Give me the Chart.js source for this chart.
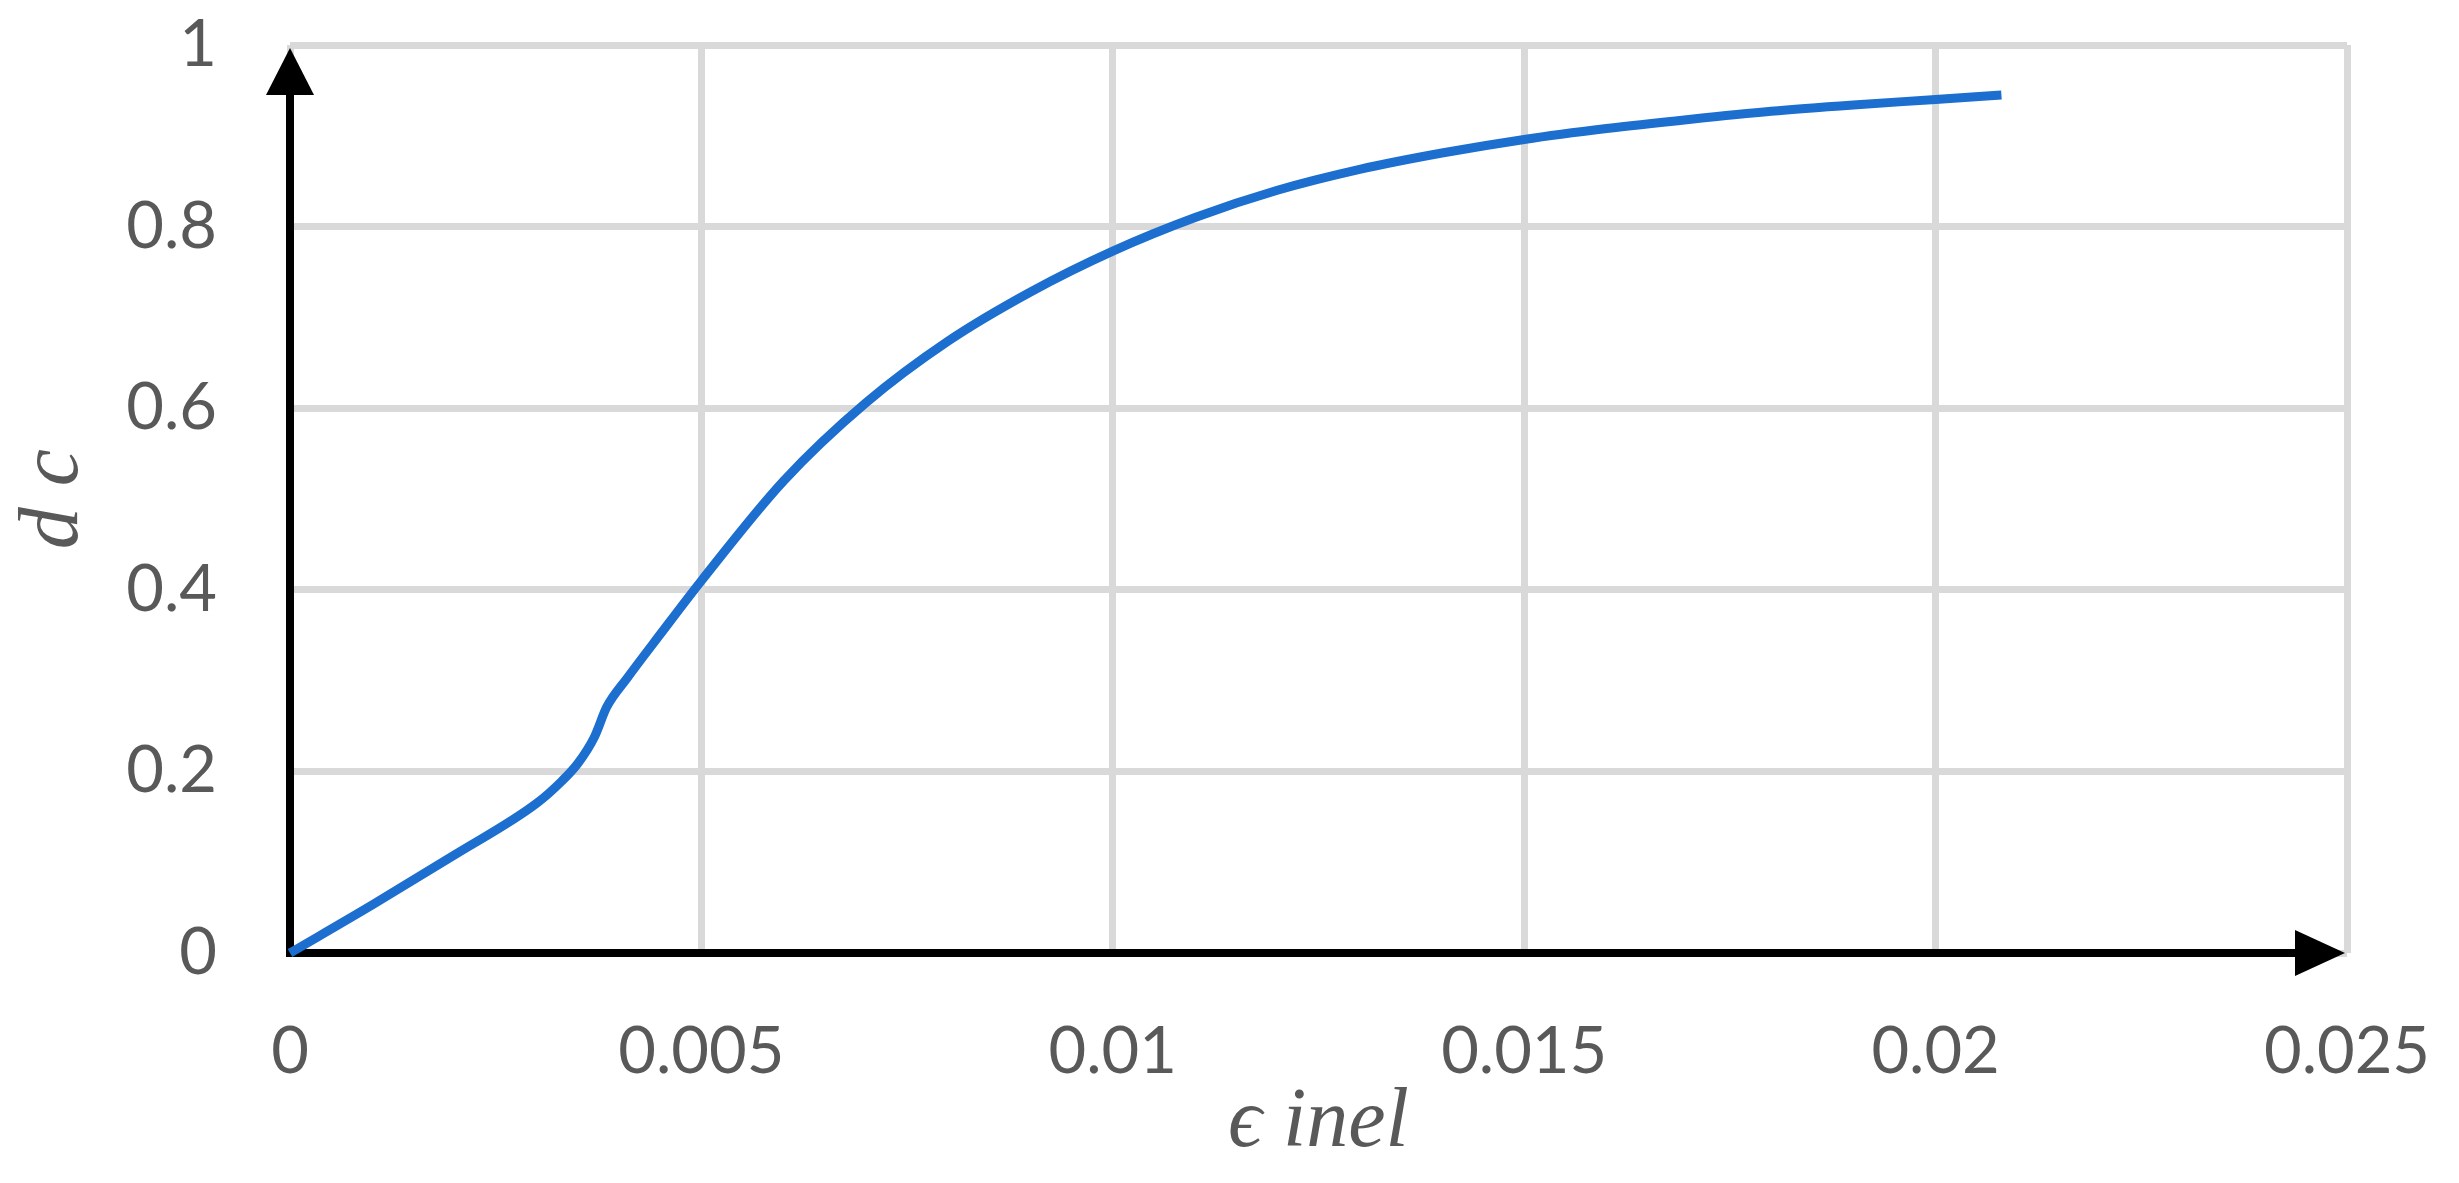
<!DOCTYPE html>
<html>
<head>
<meta charset="utf-8">
<script src="https://cdn.jsdelivr.net/npm/chart.js@4/dist/chart.umd.min.js"></script>
<style>
  html, body { margin: 0; padding: 0; background: #fff; }
  #wrap { width: 2459px; height: 1183px; }
</style>
</head>
<body>
<div id="wrap"><canvas id="chart" width="2459" height="1183"></canvas></div>
<script>
// inelastic strain vs compressive damage
const strainInel = [0, 0.001, 0.002, 0.003, 0.0033, 0.0035, 0.0037, 0.00385, 0.0041, 0.0045,
  0.005, 0.006, 0.007, 0.008, 0.009, 0.01, 0.011, 0.012, 0.013, 0.014,
  0.015, 0.016, 0.017, 0.018, 0.019, 0.02, 0.0208];
const damageC = [0, 0.053, 0.108, 0.165, 0.189, 0.209, 0.238, 0.271, 0.303, 0.351,
  0.41, 0.52, 0.606, 0.674, 0.728, 0.773, 0.81, 0.84, 0.863, 0.881,
  0.896, 0.908, 0.918, 0.927, 0.934, 0.940, 0.945];

const xTicks = [0, 0.005, 0.01, 0.015, 0.02, 0.025];
const xTickLabels = ["0", "0.005", "0.01", "0.015", "0.02", "0.025"];
const yTicks = [0, 0.2, 0.4, 0.6, 0.8, 1];
const yTickLabels = ["0", "0.2", "0.4", "0.6", "0.8", "1"];

const labelColor = "#595959";
const gridColor = "#D9D9D9";
const tickFont = { family: "Lato, 'Open Sans', sans-serif", size: 65 };
const titleFont = { family: "'Liberation Serif', 'DejaVu Serif', serif", size: 84, style: "italic", lineHeight: 1 };

// black axes with arrow heads, drawn under the curve
const arrowAxes = {
  id: "arrowAxes",
  beforeDatasetsDraw(chart) {
    const { ctx, scales } = chart;
    const x0 = scales.x.getPixelForValue(0);
    const y0 = scales.y.getPixelForValue(0);
    const xTip = scales.x.getPixelForValue(0.025) - 2;
    const yTip = scales.y.getPixelForValue(1) + 3;
    ctx.save();
    ctx.strokeStyle = "#000";
    ctx.fillStyle = "#000";
    ctx.lineWidth = 8;
    ctx.lineCap = "square";
    ctx.beginPath();
    ctx.moveTo(x0, y0);
    ctx.lineTo(x0, yTip + 44);
    ctx.moveTo(x0, y0);
    ctx.lineTo(xTip - 46, y0);
    ctx.stroke();
    ctx.beginPath();
    ctx.moveTo(x0, yTip);
    ctx.lineTo(x0 - 24, yTip + 47);
    ctx.lineTo(x0 + 24, yTip + 47);
    ctx.closePath();
    ctx.fill();
    ctx.beginPath();
    ctx.moveTo(xTip, y0);
    ctx.lineTo(xTip - 50, y0 - 23);
    ctx.lineTo(xTip - 50, y0 + 23);
    ctx.closePath();
    ctx.fill();
    ctx.restore();
  },
};

new Chart(document.getElementById("chart"), {
  type: "line",
  data: {
    datasets: [{
      data: strainInel.map((x, i) => ({ x, y: damageC[i] })),
      borderColor: "#1C6ECF",
      borderWidth: 9,
      pointRadius: 0,
      cubicInterpolationMode: "monotone",
      fill: false,
      clip: 20,
    }],
  },
  options: {
    responsive: false,
    animation: false,
    devicePixelRatio: 1,
    layout: { padding: { left: 9, top: 45, right: 112, bottom: 13 } },
    plugins: { legend: { display: false }, tooltip: { enabled: false } },
    scales: {
      x: {
        type: "linear",
        min: 0,
        max: 0.025,
        afterBuildTicks: (s) => { s.ticks = xTicks.map((v) => ({ value: v })); },
        afterFit: (s) => {
          s.height = 217;
          s.paddingLeft = 0;
          s.paddingRight = 0;
        },
        grid: { color: gridColor, lineWidth: 7, drawTicks: false },
        border: { display: false },
        ticks: {
          color: labelColor,
          font: tickFont,
          padding: 60,
          maxRotation: 0,
          callback: (v, i) => xTickLabels[i],
        },
        title: { display: true, text: "ϵ inel", color: labelColor, font: titleFont },
      },
      y: {
        type: "linear",
        min: 0,
        max: 1,
        afterBuildTicks: (s) => { s.ticks = yTicks.map((v) => ({ value: v })); },
        afterFit: (s) => {
          s.width = 281;
          s.paddingTop = 0;
          s.paddingBottom = 0;
        },
        grid: { color: gridColor, lineWidth: 7, drawTicks: false },
        border: { display: false },
        ticks: {
          color: labelColor,
          font: tickFont,
          padding: 73,
          callback: (v, i) => yTickLabels[i],
        },
        title: { display: true, text: "d c", color: labelColor, font: titleFont },
      },
    },
  },
  plugins: [arrowAxes],
});
</script>
</body>
</html>
